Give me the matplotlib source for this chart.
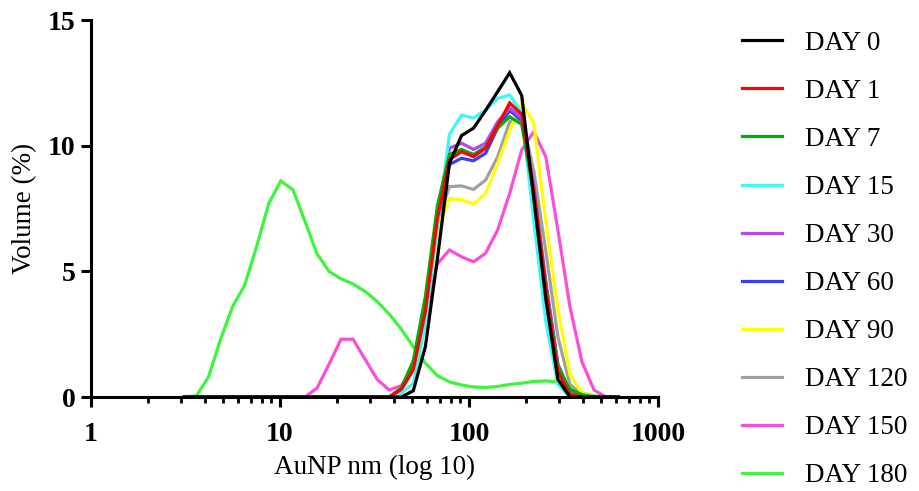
import matplotlib

matplotlib.use("Agg")
import matplotlib.pyplot as plt
from matplotlib.ticker import FixedLocator, LogLocator, NullFormatter

# DLS size bins (nm), log spaced
SIZE_NM = [
    3.122, 3.615, 4.187, 4.849, 5.615, 6.503, 7.531, 8.721, 10.10, 11.70,
    13.54, 15.69, 18.17, 21.04, 24.36, 28.21, 32.67, 37.84, 43.82, 50.75,
    58.77, 68.06, 78.82, 91.28, 105.7, 122.4, 141.8, 164.2, 190.1, 220.2,
    255.0, 295.3, 342.0, 396.1, 458.7, 531.2, 615.1,
]

DAY_LABELS = ["DAY 0", "DAY 1", "DAY 7", "DAY 15", "DAY 30",
              "DAY 60", "DAY 90", "DAY 120", "DAY 150", "DAY 180"]

DAY_COLORS = ["#000000", "#FF0000", "#00B000", "#3DF8F8", "#B548E6",
              "#3C3CFF", "#FFFF00", "#A0A0A0", "#FA4ED8", "#3CF53C"]

# volume (%) per bin for each day
DAY0 = [0, 0, 0, 0, 0, 0, 0, 0, 0, 0, 0, 0, 0, 0, 0, 0, 0, 0, 0, 0.25,
        2.0, 5.5, 9.3, 10.4, 10.7, 11.4, 12.15, 12.9, 12.0, 7.9,
        3.9, 0.7, 0, 0, 0, 0, 0]
DAY1 = [0, 0, 0, 0, 0, 0, 0, 0, 0, 0, 0, 0, 0, 0, 0, 0, 0, 0, 0.3, 1.1,
        3.4, 7.1, 9.45, 9.76, 9.56, 9.9, 10.8, 11.7, 11.25, 8.2,
        4.3, 1.0, 0.1, 0, 0, 0, 0]
DAY7 = [0, 0, 0, 0, 0, 0, 0, 0, 0, 0, 0, 0, 0, 0, 0, 0, 0, 0, 0.35, 1.45,
        4.0, 7.6, 9.65, 9.85, 9.65, 9.95, 10.7, 11.15, 10.85, 8.1,
        4.4, 1.2, 0.3, 0.1, 0, 0, 0]
DAY15 = [0, 0, 0, 0, 0, 0, 0, 0, 0, 0, 0, 0, 0, 0, 0, 0, 0, 0, 0.15, 0.55,
         2.9, 6.8, 10.45, 11.22, 11.1, 11.42, 11.88, 12.02, 11.3, 7.0,
         3.0, 0.5, 0, 0, 0, 0, 0]
DAY30 = [0, 0, 0, 0, 0, 0, 0, 0, 0, 0, 0, 0, 0, 0, 0, 0, 0, 0, 0.35, 1.3,
         3.6, 7.3, 9.9, 10.1, 9.85, 10.1, 10.95, 11.5, 11.1, 8.4,
         4.6, 1.3, 0.2, 0, 0, 0, 0]
DAY60 = [0, 0, 0, 0, 0, 0, 0, 0, 0, 0, 0, 0, 0, 0, 0, 0, 0, 0, 0.3, 1.1,
         3.3, 7.0, 9.25, 9.5, 9.4, 9.7, 10.7, 11.4, 11.0, 8.3,
         4.5, 1.3, 0.2, 0, 0, 0, 0]
DAY90 = [0, 0, 0, 0, 0, 0, 0, 0, 0, 0, 0, 0, 0, 0, 0, 0, 0, 0, 0.3, 1.1,
         3.2, 6.6, 7.9, 7.85, 7.68, 8.1, 9.3, 10.6, 11.7, 10.9,
         7.0, 3.5, 0.9, 0.15, 0, 0, 0]
DAY120 = [0, 0, 0, 0, 0, 0, 0, 0, 0, 0, 0, 0, 0, 0, 0, 0, 0, 0, 0.3, 1.1,
          3.3, 7.0, 8.37, 8.4, 8.26, 8.63, 9.56, 10.95, 11.1, 9.0,
          5.8, 2.4, 0.5, 0.1, 0, 0, 0]
DAY150 = [0, 0, 0, 0, 0, 0, 0, 0, 0, 0, 0, 0.35, 1.3, 2.3, 2.3, 1.5, 0.7, 0.28, 0.45, 1.2,
          3.3, 5.3, 5.85, 5.58, 5.38, 5.72, 6.65, 8.1, 9.83, 10.56,
          9.56, 6.65, 3.6, 1.4, 0.28, 0, 0]
DAY180 = [0, 0.05, 0.8, 2.3, 3.6, 4.45, 6.0, 7.7, 8.6, 8.25, 7.0, 5.7, 5.0, 4.7, 4.5, 4.2, 3.8, 3.3, 2.7, 2.0,
          1.35, 0.85, 0.6, 0.48, 0.4, 0.38, 0.42, 0.5, 0.55, 0.62,
          0.64, 0.6, 0.35, 0.15, 0.05, 0, 0]

SERIES = [DAY0, DAY1, DAY7, DAY15, DAY30, DAY60, DAY90, DAY120, DAY150, DAY180]


def main() -> None:
    plt.rcParams["font.family"] = ["Liberation Serif", "DejaVu Serif"]
    fig = plt.figure(figsize=(9.2, 4.91), dpi=100)
    ax = fig.add_axes([0.0989, 0.1914, 0.6163, 0.7678])

    # first day drawn on top
    n = len(SERIES)
    for idx, (values, label, color) in enumerate(zip(SERIES, DAY_LABELS, DAY_COLORS)):
        ax.plot(SIZE_NM, values, color=color, lw=2.3, label=label,
                solid_joinstyle="miter", zorder=2 + (n - idx) * 0.01)

    ax.set_xscale("log")
    ax.set_xlim(1, 1000)
    ax.set_ylim(0, 15)
    ax.xaxis.set_major_locator(FixedLocator([1, 10, 100, 1000]))
    ax.set_xticklabels(["1", "10", "100", "1000"])
    ax.xaxis.set_minor_locator(LogLocator(base=10, subs=range(2, 10)))
    ax.xaxis.set_minor_formatter(NullFormatter())
    ax.set_yticks([0, 5, 10, 15])

    for side in ("top", "right"):
        ax.spines[side].set_visible(False)
    for side in ("left", "bottom"):
        ax.spines[side].set_linewidth(2.2)
        ax.spines[side].set_zorder(3)

    ax.tick_params(axis="both", which="major", direction="out", length=7,
                   width=2.2, labelsize=20, pad=4)
    ax.tick_params(axis="x", which="major", pad=11)
    ax.tick_params(axis="x", which="minor", direction="out", length=4, width=2.0)
    for lbl in ax.get_xticklabels() + ax.get_yticklabels():
        lbl.set_fontweight("bold")

    ax.set_xlabel("AuNP nm (log 10)", fontsize=19.5, labelpad=6)
    ax.set_ylabel("Volume (%)", fontsize=19.5, labelpad=8)

    ax.legend(loc="upper left", bbox_to_anchor=(0.806, 0.937),
              bbox_transform=fig.transFigure, frameon=False, fontsize=19.5,
              handlelength=1.5, handletextpad=0.85, labelspacing=0.85,
              borderpad=0, borderaxespad=0)

    fig.savefig("out.png", dpi=100)


if __name__ == "__main__":
    main()
